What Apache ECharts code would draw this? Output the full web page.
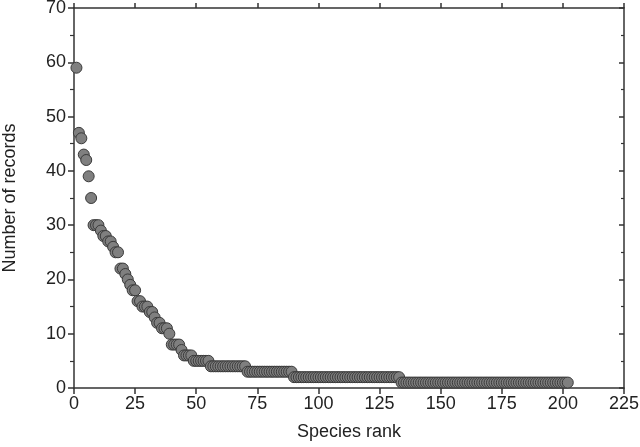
<!DOCTYPE html>
<html>
<head>
<meta charset="utf-8">
<script src="https://cdn.jsdelivr.net/npm/echarts@6/dist/echarts.min.js"></script>
<style>html,body{margin:0;padding:0;background:#fff}#c{width:640px;height:447px}</style>
</head>
<body>
<div id="c"></div>
<script>
// Number of records per species, in rank order (rank 1 .. 202)
const records = [
  59,47,46,43,42,39,35,30,30,30,
  29,28,28,27,27,26,25,25,22,22,
  21,20,19,18,18,16,16,15,15,15,
  14,14,13,12,12,11,11,11,10,8,
  8,8,8,7,6,6,6,6,5,5,
  5,5,5,5,5,
  4,4,4,4,4,4,4,4,4,4,4,4,4,4,4,
  3,3,3,3,3,3,3,3,3,3,3,3,3,3,3,3,3,3,3,
  2,2,2,2,2,2,2,2,2,2,2,2,2,2,2,2,2,2,2,2,2,2,
  2,2,2,2,2,2,2,2,2,2,2,2,2,2,2,2,2,2,2,2,2,2,
  1,1,1,1,1,1,1,1,1,1,1,1,1,1,1,1,1,1,1,1,1,1,1,
  1,1,1,1,1,1,1,1,1,1,1,1,1,1,1,1,1,1,1,1,1,1,1,
  1,1,1,1,1,1,1,1,1,1,1,1,1,1,1,1,1,1,1,1,1,1,1
];
const xTitle = "Species rank";
const yTitle = "Number of records";

const points = records.map((v, i) => [i + 1, v]);

const font = "'Liberation Sans', Arial, sans-serif";
const axisColor = '#333';
const labelStyle = {fontFamily: font, fontSize: 18, color: '#222'};

const chart = echarts.init(document.getElementById('c'), null, {renderer: 'canvas'});
chart.setOption({
  animation: false,
  backgroundColor: '#fff',
  grid: {left: 74, right: 16, top: 8, bottom: 59, containLabel: false, outerBoundsMode: 'none'},
  xAxis: [{
    type: 'value', min: 0, max: 225, interval: 25, position: 'bottom',
    name: xTitle, nameLocation: 'middle', nameGap: 35,
    nameTextStyle: {fontFamily: font, fontSize: 18, color: '#222'},
    axisLine: {show: true, onZero: false, lineStyle: {color: axisColor, width: 1.5}},
    axisTick: {show: true, length: 6, lineStyle: {color: axisColor, width: 1.5}},
    axisLabel: Object.assign({margin: 7}, labelStyle),
    splitLine: {show: false}
  }, {
    type: 'value', min: 0, max: 225, interval: 25, position: 'top',
    axisLine: {show: true, onZero: false, lineStyle: {color: axisColor, width: 1.5}},
    axisTick: {show: true, length: 5, lineStyle: {color: axisColor, width: 1.5}},
    axisLabel: {show: false},
    splitLine: {show: false}
  }],
  yAxis: [{
    type: 'value', min: 0, max: 70, interval: 10, position: 'left',
    name: yTitle, nameLocation: 'middle', nameGap: 55,
    nameTextStyle: {fontFamily: font, fontSize: 18, color: '#222'},
    axisLine: {show: true, onZero: false, lineStyle: {color: axisColor, width: 1.5}},
    axisTick: {show: true, length: 6, lineStyle: {color: axisColor, width: 1.5}},
    minorTick: {show: true, splitNumber: 2, length: 4, lineStyle: {color: axisColor, width: 1.2}},
    axisLabel: Object.assign({margin: 8}, labelStyle),
    splitLine: {show: false}
  }, {
    type: 'value', min: 0, max: 70, interval: 10, position: 'right',
    axisLine: {show: true, onZero: false, lineStyle: {color: axisColor, width: 1.5}},
    axisTick: {show: true, inside: true, length: 5, lineStyle: {color: axisColor, width: 1.5}},
    minorTick: {show: true, splitNumber: 2, length: 3, lineStyle: {color: axisColor, width: 1.2}},
    axisLabel: {show: false},
    splitLine: {show: false}
  }],
  series: [{
    type: 'scatter',
    xAxisIndex: 0, yAxisIndex: 0,
    data: points,
    symbol: 'circle',
    symbolSize: 11,
    itemStyle: {color: '#7f7f7f', borderColor: '#3a3a3a', borderWidth: 1, opacity: 1},
    clip: false
  }]
});
</script>
</body>
</html>
